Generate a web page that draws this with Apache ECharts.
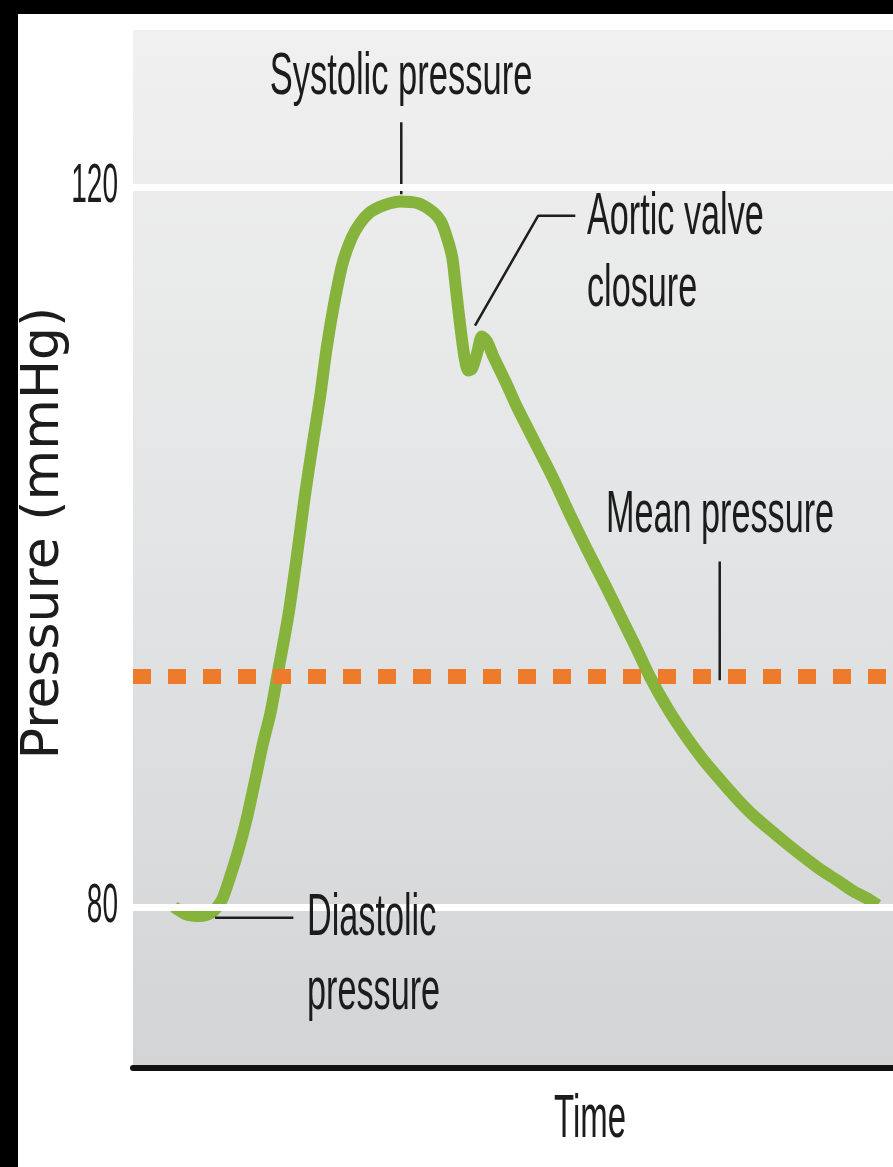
<!DOCTYPE html>
<html>
<head>
<meta charset="utf-8">
<script src="https://cdn.jsdelivr.net/npm/echarts@6/dist/echarts.min.js"></script>
<style>
  html, body { margin: 0; padding: 0; background: #000; width: 893px; height: 1167px; overflow: hidden; }
  #chart { position: absolute; left: 18px; top: 14px; width: 875px; height: 1153px; background: #fff; }
</style>
</head>
<body>
<div id="chart"></div>
<script>
// arterial pressure over one cardiac cycle (time in arbitrary units)
const times = [5.4, 7.0, 8.8, 10.4, 11.7, 12.8, 13.9, 14.9, 16.1, 17.1, 18.1, 19.1, 20.4, 21.5, 22.6, 23.6, 24.6, 25.5, 26.5, 27.6, 28.8, 29.9, 31.2, 32.5, 33.8, 35.1, 37.5, 39.5, 40.5, 41.3, 42.0, 42.4, 42.8, 43.2, 43.6, 44.1, 44.6, 45.3, 45.9, 46.6, 47.4, 49.0, 50.5, 52.9, 55.3, 57.5, 59.7, 62.0, 64.1, 66.1, 68.0, 70.4, 72.9, 75.0, 77.2, 79.5, 81.6, 83.8, 86.1, 88.2, 90.4, 92.6, 94.7, 96.5, 98.0];
const pressures = [80.0, 79.6, 79.5, 79.7, 80.4, 81.7, 83.2, 84.8, 87.1, 89.1, 90.8, 93.1, 96.1, 99.3, 102.8, 105.6, 108.3, 111.1, 113.6, 115.8, 117.2, 118.0, 118.6, 118.9, 119.1, 119.2, 119.1, 118.6, 118.1, 117.2, 116.1, 114.7, 113.2, 111.8, 110.6, 109.8, 109.9, 110.8, 111.7, 111.4, 110.6, 109.2, 107.8, 105.8, 103.8, 101.8, 99.9, 98.0, 96.2, 94.5, 92.8, 91.0, 89.4, 88.2, 87.1, 86.0, 85.1, 84.3, 83.5, 82.8, 82.1, 81.5, 80.9, 80.5, 80.1];

const yTicks = [80, 120];
const meanPressure = 92.8;

// leader lines for the labels, [time, pressure]
const systolicLeader = [[35.3, 123.6], [35.3, 119.6]];
const aorticLeader = [[58.2, 118.4], [53.3, 118.4], [45.0, 112.3]];
const meanLeader = [[77.2, 99.2], [77.2, 92.6]];
const diastolicLeader = [[10.8, 79.4], [21.1, 79.4]];

let myChart = echarts.init(document.getElementById('chart'));

function leader(points) {
    return {
        type: 'line',
        data: points,
        symbol: 'none',
        silent: true,
        z: 4,
        lineStyle: { color: '#1e1e1e', width: 2.5 }
    };
}

// condensed text: Liberation Sans squeezed horizontally
function label(text, x, y, align, size, squeeze) {
    return {
        type: 'text',
        x: x,
        y: y,
        scaleX: squeeze,
        z: 100,
        style: {
            text: text,
            font: size + 'px "Liberation Sans"',
            fill: '#1c1c1c',
            textAlign: align,
            align: align,
            textVerticalAlign: 'middle',
            verticalAlign: 'middle'
        }
    };
}

let curve = times.map((t, i) => [t, pressures[i]]);

let option = {
    animation: false,
    grid: {
        left: 115,
        top: 16,
        right: 0,
        bottom: 99,
        containLabel: false,
        outerBoundsMode: 'none',
        show: true,
        borderWidth: 0,
        backgroundColor: new echarts.graphic.LinearGradient(0, 0, 0, 1, [
            { offset: 0, color: '#f0f0f0' },
            { offset: 0.5, color: '#e3e4e5' },
            { offset: 1, color: '#d3d4d6' }
        ])
    },
    xAxis: {
        type: 'value',
        min: 0,
        max: 100,
        axisLine: { lineStyle: { color: '#111', width: 6 } },
        axisTick: { show: false },
        axisLabel: { show: false },
        splitLine: { show: false }
    },
    yAxis: {
        type: 'value',
        min: 71.06,
        max: 128.72,
        name: 'Pressure (mmHg)',
        nameLocation: 'middle',
        nameGap: 63,
        nameMoveOverlap: false,
        nameTextStyle: {
            fontFamily: 'DejaVu Sans',
            fontSize: 52,
            color: '#1c1c1c',
            padding: [0, 0, 0, 32]
        },
        axisLine: { show: false },
        axisTick: { show: false },
        axisLabel: { show: false },
        splitLine: { show: false }
    },
    series: [
        {
            type: 'line',
            data: [],
            silent: true,
            z: 1,
            markLine: {
                silent: true,
                symbol: 'none',
                label: { show: false },
                data: yTicks.map(v => ({ yAxis: v, lineStyle: { color: '#ffffff', width: 7, type: 'solid' } }))
                    .concat([{ yAxis: meanPressure, lineStyle: { color: '#ee7a2c', width: 15, type: [18, 17] } }])
            }
        },
        {
            type: 'line',
            data: curve,
            smooth: 0.25,
            symbol: 'none',
            silent: true,
            z: 3,
            lineStyle: { color: '#86b33b', width: 12, join: 'round' }
        },
        leader(systolicLeader),
        leader(aorticLeader),
        leader(meanLeader),
        leader(diastolicLeader)
    ]
};

myChart.setOption(option);

// tick labels placed through the y axis scale
let tickLabels = yTicks.map(v => label(String(v), 100, myChart.convertToPixel({ yAxisIndex: 0 }, v), 'right', 56, 0.5));

myChart.setOption({
    graphic: tickLabels.concat([
        label('Systolic pressure', 383, 63, 'center', 60, 0.575),
        label('Aortic valve', 569, 203, 'left', 60, 0.57),
        label('closure', 569, 275, 'left', 60, 0.57),
        label('Mean pressure', 588, 501, 'left', 60, 0.57),
        label('Diastolic', 289, 904, 'left', 60, 0.57),
        label('pressure', 289, 978, 'left', 60, 0.57),
        label('Time', 572, 1106, 'center', 61, 0.54)
    ])
});
</script>
</body>
</html>
